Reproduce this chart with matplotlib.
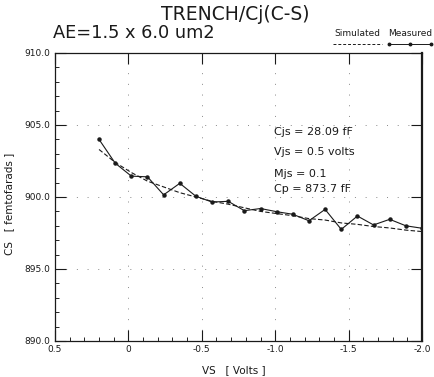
import matplotlib
matplotlib.use("Agg")
import matplotlib.pyplot as plt
from matplotlib.ticker import MultipleLocator, FixedLocator

# Data
vs = [0.2, 0.09, -0.02, -0.13, -0.24, -0.35, -0.46, -0.57, -0.68, -0.79, -0.90,
      -1.01, -1.12, -1.23, -1.34, -1.45, -1.56, -1.67, -1.78, -1.89, -2.0]
measured = [904.0, 902.35, 901.45, 901.4, 900.15, 900.95, 900.05, 899.65, 899.7, 899.05, 899.2,
            898.98, 898.8, 898.35, 899.14, 897.75, 898.68, 898.06, 898.45, 898.0, 897.83]
simulated = [903.3, 902.4, 901.7, 901.1, 900.7, 900.3, 900.0, 899.7, 899.5, 899.25, 899.0,
             898.85, 898.7, 898.5, 898.4, 898.2, 898.1, 897.95, 897.85, 897.7, 897.6]
xticks = [0.5, 0.0, -0.5, -1.0, -1.5, -2.0]
xticklabels = ["0.5", "0", "-0.5", "-1.0", "-1.5", "-2.0"]
yticks = [890.0, 895.0, 900.0, 905.0, 910.0]
yticklabels = ["890.0", "895.0", "900.0", "905.0", "910.0"]
params = ["Cjs = 28.09 fF", "Vjs = 0.5 volts", "Mjs = 0.1", "Cp = 873.7 fF"]

W, H = 434, 377
fig = plt.figure(figsize=(W / 100, H / 100), dpi=100)
ax = fig.add_axes([55 / W, 1 - 341 / H, (422 - 55) / W, (341 - 53) / H])

ink = "#1a1a1a"
ax.plot(vs, simulated, color=ink, lw=0.8, ls=(0, (4, 2)))
ax.plot(vs, measured, color=ink, lw=0.8, marker="o", ms=2.2)

ax.set_xlim(0.5, -2.0)
ax.set_ylim(890, 910)
ax.xaxis.set_major_locator(FixedLocator(xticks))
ax.set_xticklabels(xticklabels)
ax.yaxis.set_major_locator(FixedLocator(yticks))
ax.set_yticklabels(yticklabels)
ax.xaxis.set_minor_locator(MultipleLocator(0.1))
ax.yaxis.set_minor_locator(MultipleLocator(1.0))
ax.tick_params(which="major", direction="in", length=8, width=0.8, labelsize=6.5,
               colors=ink, top=True, right=True)
ax.tick_params(which="minor", direction="in", length=3, width=0.6, top=False, right=False)
ax.tick_params(axis="x", pad=3)
ax.grid(True, which="major", color="#888888", lw=0.7, ls=(0, (1, 10)))
for s in ax.spines.values():
    s.set_color(ink)
    s.set_linewidth(0.9)
ax.spines["right"].set_linewidth(1.6)

ax.set_xlabel("VS   [ Volts ]", fontsize=7.5, color=ink)
ax.xaxis.set_label_coords((234 - 55) / 367, (341 - 365) / 288)
ax.set_ylabel("CS   [ femtofarads ]", fontsize=7.5, color=ink)
ax.yaxis.set_label_coords((14 - 55) / 367, (341 - 204) / 288)

fig.text(235 / W, 1 - 15 / H, "TRENCH/Cj(C-S)", ha="center", va="center", fontsize=13.5, color=ink)
fig.text(53 / W, 1 - 33 / H, "AE=1.5 x 6.0 um2", ha="left", va="center", fontsize=12.8, color=ink)

# legend drawn above the axes
fig.text(357 / W, 1 - 34 / H, "Simulated", ha="center", va="center", fontsize=6.5, color=ink)
fig.text(410 / W, 1 - 34 / H, "Measured", ha="center", va="center", fontsize=6.5, color=ink)
ly = [1 - 44 / H] * 3
fig.add_artist(plt.Line2D([333 / W, 357 / W, 382 / W], ly, color=ink, lw=0.7,
                          ls=(0, (3, 2)), transform=fig.transFigure))
fig.add_artist(plt.Line2D([389 / W, 410 / W, 431 / W], ly, color=ink, lw=0.7, marker="o",
                          ms=1.8, transform=fig.transFigure))

ys = [132, 152, 174, 189]
for t, y in zip(params, ys):
    fig.text(274 / W, 1 - y / H, t, ha="left", va="center", fontsize=8, color=ink)

fig.savefig("out.png", dpi=100)
